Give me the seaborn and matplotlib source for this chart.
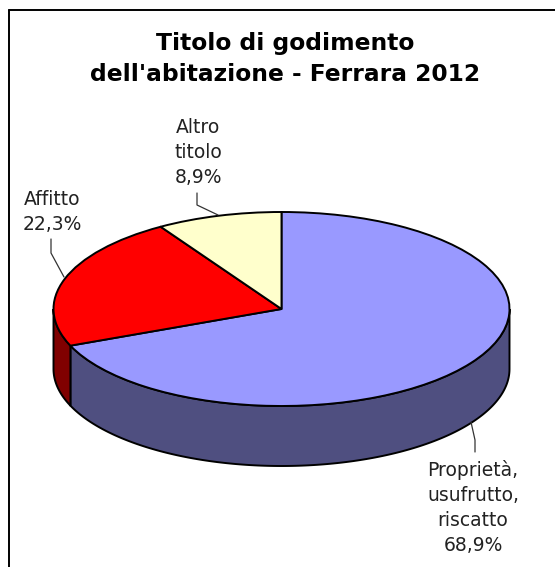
import numpy as np
import seaborn as sns
import matplotlib.pyplot as plt

labels = ["Proprietà,\nusufrutto,\nriscatto\n68,9%", "Affitto\n22,3%", "Altro\ntitolo\n8,9%"]
values = [68.9, 22.3, 8.9]
top_colors = ["#9999FF", "#FF0000", "#FFFFCC"]
side_colors = ["#4F4F80", "#800000", "#808066"]
title = "Titolo di godimento\ndell'abitazione - Ferrara 2012"

W, H = 555, 567
CX, CY, RX, RY, DEPTH = 281.5, 309, 228, 97, 60
K = RY / RX

sns.set_theme(style="white")
plt.rcParams["font.family"] = ["DejaVu Sans"]

f = plt.figure(figsize=(W / 100, H / 100), dpi=100, facecolor="white")
ax = f.add_axes([0, 0, 1, 1])


def py(y):
    return -y / K


# side wall first, one piece per slice, only the part facing us
shares = np.array(values) / sum(values) * 360
starts = np.cumsum(np.r_[0, shares[:-1]])
for start, share, col in zip(starts, shares, side_colors):
    lo, hi = max(start, 90), min(start + share, 270)
    if hi <= lo:
        continue
    t = np.radians(np.linspace(lo, hi, 200))
    x = CX + RX * np.sin(t)
    y_top = py(CY - RY * np.cos(t))
    y_bot = py(CY - RY * np.cos(t) + DEPTH)
    ax.fill(np.r_[x, x[::-1]], np.r_[y_top, y_bot[::-1]], facecolor=col, edgecolor="black", linewidth=1.4, zorder=1)

ax.pie(values, colors=top_colors, startangle=90, counterclock=False, radius=RX, center=(CX, py(CY)),
       wedgeprops={"edgecolor": "black", "linewidth": 1.4, "zorder": 2})

ax.set_aspect("auto")
ax.set_xlim(0, W)
ax.set_ylim(py(H), py(0))
ax.axis("off")

# leader lines
ax.plot([197, 197, 218], [py(193), py(205), py(215)], color="#333333", lw=0.9, zorder=3)
ax.plot([51, 51, 64], [py(239), py(253), py(277)], color="#333333", lw=0.9, zorder=3)
ax.plot([475, 475, 471], [py(452), py(440), py(422)], color="#333333", lw=0.9, zorder=3)

ax.text(285, py(59), title, ha="center", va="center", fontsize=16.8, fontweight="bold", color="black", linespacing=1.4, zorder=4)
ax.text(198, py(152.5), labels[2], ha="center", va="center", fontsize=13.5, color="#222222", linespacing=1.4, zorder=4)
ax.text(52, py(212), labels[1], ha="center", va="center", fontsize=13.5, color="#222222", linespacing=1.4, zorder=4)
ax.text(473, py(507.5), labels[0], ha="center", va="center", fontsize=13.5, color="#222222", linespacing=1.4, zorder=4)

# chart frame, cut by the right and bottom of the picture
ax.plot([9, 9], [py(H), py(10)], color="black", lw=1.4)
ax.plot([9, W], [py(10), py(10)], color="black", lw=1.4)

f.savefig("out.png", dpi=100)
